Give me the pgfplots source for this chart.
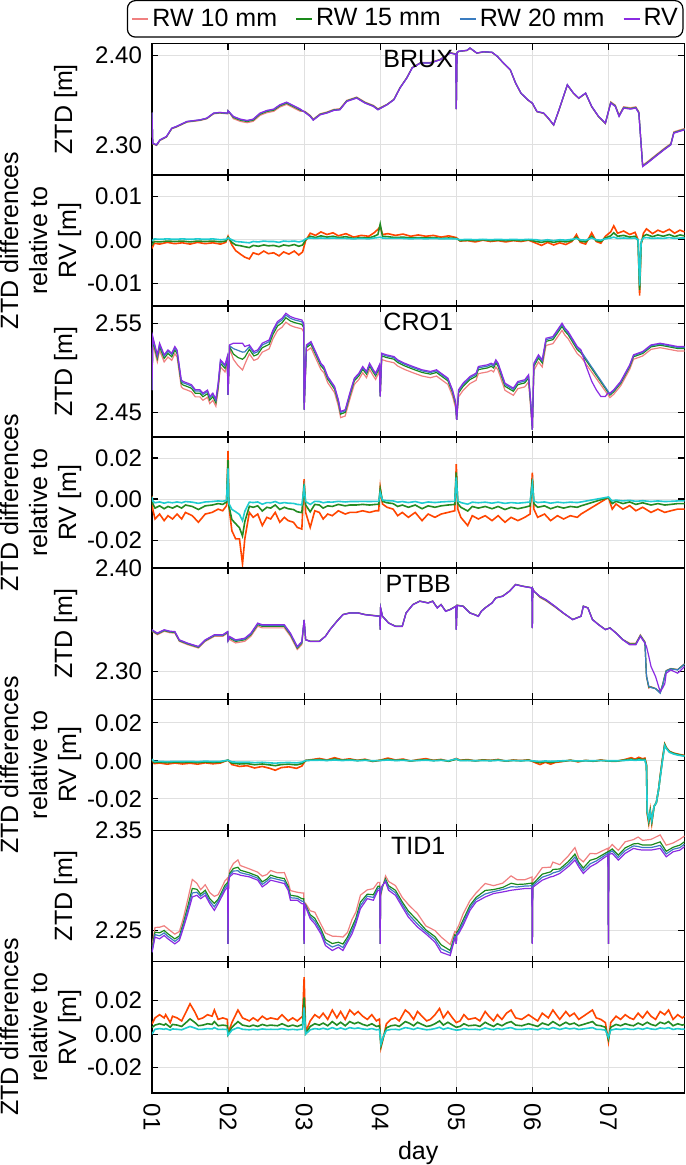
\documentclass[border=0pt]{standalone}
\usepackage{fontspec}
\setmainfont{Liberation Sans}
\usepackage{pgfplots}
\usepackage{pgfplotstable}
\pgfplotsset{compat=1.18}
\usepgfplotslibrary{groupplots}

\definecolor{cRWa}{HTML}{F08080}
\definecolor{cRWb}{HTML}{1A8A1A}
\definecolor{cRWc}{HTML}{3A7CC0}
\definecolor{cRV}{HTML}{8A2BE2}
\definecolor{dA}{HTML}{FF4500}
\definecolor{dB}{HTML}{228B22}
\definecolor{dC}{HTML}{20CCD0}

% BRUX ZTD
\pgfplotstableread{
t rv r10 r15 r20
0.000 2.3360 2.3360 2.3360 2.3360
0.010 2.3018 2.3010 2.3014 2.3017
0.060 2.3000 2.2992 2.2996 2.2999
0.105 2.3055 2.3047 2.3051 2.3054
0.190 2.3093 2.3085 2.3089 2.3092
0.260 2.3186 2.3178 2.3182 2.3185
0.320 2.3205 2.3197 2.3201 2.3204
0.460 2.3261 2.3253 2.3257 2.3260
0.630 2.3279 2.3271 2.3275 2.3278
0.720 2.3298 2.3290 2.3294 2.3297
0.810 2.3354 2.3346 2.3350 2.3353
0.890 2.3362 2.3354 2.3358 2.3361
0.995 2.3354 2.3346 2.3350 2.3353
1.000 2.3380 2.3380 2.3380 2.3380
1.070 2.3317 2.3292 2.3305 2.3313
1.160 2.3287 2.3262 2.3275 2.3283
1.250 2.3272 2.3247 2.3260 2.3268
1.330 2.3287 2.3262 2.3275 2.3283
1.420 2.3354 2.3329 2.3342 2.3350
1.510 2.3384 2.3359 2.3372 2.3380
1.600 2.3399 2.3374 2.3387 2.3395
1.680 2.3447 2.3422 2.3435 2.3443
1.770 2.3477 2.3452 2.3465 2.3473
1.840 2.3447 2.3422 2.3435 2.3443
1.950 2.3399 2.3374 2.3387 2.3395
2.010 2.3362 2.3374 2.3368 2.3364
2.080 2.3317 2.3329 2.3323 2.3319
2.120 2.3275 2.3287 2.3281 2.3277
2.210 2.3335 2.3347 2.3341 2.3337
2.300 2.3355 2.3367 2.3361 2.3357
2.390 2.3384 2.3396 2.3390 2.3386
2.470 2.3391 2.3403 2.3397 2.3393
2.560 2.3485 2.3497 2.3491 2.3487
2.690 2.3522 2.3534 2.3528 2.3524
2.800 2.3466 2.3478 2.3472 2.3468
2.910 2.3429 2.3441 2.3435 2.3431
2.970 2.3391 2.3403 2.3397 2.3393
3.090 2.3447 2.3453 2.3450 2.3448
3.180 2.3503 2.3509 2.3506 2.3504
3.260 2.3634 2.3640 2.3637 2.3635
3.350 2.3746 2.3752 2.3749 2.3747
3.420 2.3858 2.3864 2.3861 2.3859
3.530 2.3914 2.3920 2.3917 2.3915
3.660 2.3914 2.3920 2.3917 2.3915
3.790 2.3951 2.3957 2.3954 2.3952
3.920 2.4026 2.4032 2.4029 2.4027
3.995 2.4010 2.4016 2.4013 2.4011
4.000 2.3399 2.3399 2.3399 2.3399
4.010 2.4030 2.4027 2.4029 2.4030
4.030 2.4045 2.4042 2.4044 2.4045
4.140 2.4056 2.4053 2.4055 2.4056
4.180 2.4082 2.4079 2.4081 2.4082
4.270 2.4026 2.4023 2.4025 2.4026
4.360 2.4040 2.4037 2.4039 2.4040
4.470 2.4034 2.4031 2.4033 2.4034
4.540 2.3989 2.3986 2.3988 2.3989
4.620 2.3914 2.3911 2.3913 2.3914
4.710 2.3839 2.3836 2.3838 2.3839
4.780 2.3690 2.3687 2.3689 2.3690
4.850 2.3578 2.3575 2.3577 2.3578
4.940 2.3503 2.3500 2.3502 2.3503
5.000 2.3466 2.3461 2.3464 2.3466
5.060 2.3373 2.3368 2.3371 2.3373
5.150 2.3354 2.3349 2.3352 2.3354
5.210 2.3298 2.3293 2.3296 2.3298
5.280 2.3223 2.3218 2.3221 2.3223
5.350 2.3391 2.3386 2.3389 2.3391
5.460 2.3671 2.3666 2.3669 2.3671
5.540 2.3578 2.3573 2.3576 2.3578
5.610 2.3522 2.3517 2.3520 2.3522
5.700 2.3578 2.3573 2.3576 2.3578
5.780 2.3429 2.3424 2.3427 2.3429
5.870 2.3317 2.3312 2.3315 2.3317
5.960 2.3242 2.3237 2.3240 2.3242
6.030 2.3466 2.3481 2.3473 2.3469
6.090 2.3429 2.3444 2.3436 2.3432
6.140 2.3317 2.3332 2.3324 2.3320
6.200 2.3410 2.3425 2.3417 2.3413
6.290 2.3399 2.3414 2.3406 2.3402
6.360 2.3410 2.3425 2.3417 2.3413
6.400 2.3354 2.3369 2.3361 2.3357
6.450 2.2757 2.2772 2.2764 2.2760
6.510 2.2794 2.2809 2.2801 2.2797
6.620 2.2869 2.2884 2.2876 2.2872
6.730 2.2943 2.2958 2.2950 2.2946
6.820 2.2999 2.3014 2.3006 2.3002
6.860 2.3130 2.3145 2.3137 2.3133
6.930 2.3149 2.3164 2.3156 2.3152
7.000 2.3167 2.3182 2.3174 2.3170
}\bruxz

% BRUX differences
\pgfplotstableread{
t d10 d15 d20
0.00 -0.0020 -0.0012 -0.0003
0.03 -0.0008 -0.0004 0.0002
0.10 -0.0010 -0.0005 0.0001
0.20 -0.0006 -0.0003 0.0002
0.30 -0.0009 -0.0004 0.0001
0.40 -0.0007 -0.0003 0.0002
0.50 -0.0010 -0.0005 0.0001
0.60 -0.0006 -0.0003 0.0002
0.70 -0.0009 -0.0004 0.0001
0.80 -0.0007 -0.0003 0.0002
0.90 -0.0010 -0.0005 0.0000
0.97 -0.0006 -0.0003 0.0001
1.00 0.0008 0.0006 0.0004
1.05 -0.0012 -0.0006 0.0000
1.10 -0.0025 -0.0012 -0.0004
1.17 -0.0034 -0.0014 -0.0005
1.22 -0.0040 -0.0016 -0.0006
1.28 -0.0044 -0.0018 -0.0007
1.33 -0.0030 -0.0013 -0.0004
1.40 -0.0034 -0.0015 -0.0005
1.47 -0.0026 -0.0012 -0.0003
1.53 -0.0032 -0.0014 -0.0004
1.60 -0.0030 -0.0013 -0.0004
1.67 -0.0037 -0.0016 -0.0006
1.73 -0.0028 -0.0012 -0.0003
1.80 -0.0033 -0.0014 -0.0004
1.87 -0.0026 -0.0011 -0.0003
1.93 -0.0035 -0.0015 -0.0005
1.98 -0.0028 -0.0012 -0.0003
2.02 -0.0002 0.0000 0.0002
2.08 0.0015 0.0008 0.0004
2.15 0.0010 0.0005 0.0003
2.22 0.0018 0.0009 0.0004
2.30 0.0012 0.0006 0.0003
2.38 0.0016 0.0008 0.0004
2.45 0.0009 0.0005 0.0003
2.55 0.0014 0.0007 0.0003
2.65 0.0006 0.0003 0.0002
2.75 0.0010 0.0005 0.0003
2.85 0.0008 0.0004 0.0002
2.92 0.0016 0.0008 0.0004
2.97 0.0024 0.0012 0.0005
3.00 0.0030 0.0036 0.0006
3.03 0.0012 0.0008 0.0004
3.10 0.0014 0.0007 0.0003
3.20 0.0010 0.0005 0.0003
3.30 0.0013 0.0006 0.0003
3.40 0.0008 0.0004 0.0002
3.50 0.0011 0.0005 0.0003
3.60 0.0008 0.0004 0.0002
3.70 0.0010 0.0005 0.0003
3.80 0.0006 0.0003 0.0002
3.90 0.0009 0.0004 0.0002
4.00 0.0005 0.0003 0.0002
4.05 -0.0003 -0.0002 0.0000
4.15 -0.0002 -0.0001 0.0001
4.25 -0.0005 -0.0002 0.0000
4.35 -0.0001 0.0000 0.0001
4.45 -0.0004 -0.0002 0.0000
4.55 -0.0002 -0.0001 0.0001
4.65 -0.0005 -0.0002 0.0000
4.75 -0.0002 -0.0001 0.0001
4.85 -0.0004 -0.0002 0.0000
4.95 -0.0001 0.0000 0.0001
5.05 -0.0008 -0.0004 0.0000
5.12 -0.0013 -0.0006 -0.0002
5.20 -0.0006 -0.0003 0.0000
5.28 -0.0012 -0.0006 -0.0002
5.36 -0.0007 -0.0003 0.0000
5.44 -0.0011 -0.0005 -0.0001
5.52 -0.0004 -0.0002 0.0001
5.58 0.0012 0.0006 0.0003
5.63 -0.0006 -0.0003 0.0000
5.70 -0.0010 -0.0005 -0.0001
5.78 0.0016 0.0008 0.0004
5.84 -0.0004 -0.0002 0.0000
5.90 -0.0008 -0.0004 -0.0001
5.96 0.0008 0.0004 0.0002
6.03 0.0018 0.0009 0.0004
6.07 0.0032 0.0016 0.0006
6.12 0.0015 0.0008 0.0003
6.20 0.0020 0.0010 0.0004
6.28 0.0012 0.0006 0.0003
6.35 0.0017 0.0008 0.0004
6.39 0.0000 -0.0002 0.0000
6.41 -0.0128 -0.0115 -0.0105
6.43 -0.0010 -0.0008 -0.0004
6.46 0.0015 0.0008 0.0004
6.50 0.0025 0.0012 0.0005
6.58 0.0014 0.0007 0.0003
6.65 0.0022 0.0011 0.0004
6.72 0.0017 0.0008 0.0003
6.80 0.0024 0.0012 0.0005
6.87 0.0015 0.0007 0.0003
6.94 0.0022 0.0011 0.0004
7.00 0.0018 0.0009 0.0004
}\bruxd

% CRO1 ZTD
\pgfplotstableread{
t rv r10 r15 r20
0.000 2.4750 2.4750 2.4750 2.4750
0.010 2.5351 2.5271 2.5311 2.5336
0.070 2.5146 2.5066 2.5106 2.5131
0.100 2.5276 2.5196 2.5236 2.5261
0.160 2.5146 2.5066 2.5106 2.5131
0.210 2.5201 2.5121 2.5161 2.5186
0.260 2.5164 2.5084 2.5124 2.5149
0.300 2.5239 2.5159 2.5199 2.5224
0.330 2.5200 2.5120 2.5160 2.5185
0.385 2.4866 2.4786 2.4826 2.4851
0.410 2.4847 2.4767 2.4807 2.4832
0.470 2.4828 2.4748 2.4788 2.4813
0.520 2.4810 2.4730 2.4770 2.4795
0.570 2.4754 2.4674 2.4714 2.4739
0.630 2.4754 2.4674 2.4714 2.4739
0.670 2.4716 2.4636 2.4676 2.4701
0.730 2.4750 2.4670 2.4710 2.4735
0.760 2.4679 2.4599 2.4639 2.4664
0.800 2.4716 2.4636 2.4676 2.4701
0.840 2.4649 2.4569 2.4609 2.4634
0.870 2.4828 2.4748 2.4788 2.4813
0.900 2.5090 2.5010 2.5050 2.5075
0.960 2.5034 2.4954 2.4994 2.5019
0.990 2.5127 2.5047 2.5087 2.5112
1.000 2.4698 2.4698 2.4698 2.4698
1.020 2.5257 2.5217 2.5237 2.5247
1.070 2.5276 2.5096 2.5156 2.5216
1.130 2.5276 2.5026 2.5116 2.5196
1.190 2.5276 2.4976 2.5096 2.5176
1.220 2.5239 2.5039 2.5119 2.5179
1.280 2.5257 2.5157 2.5207 2.5237
1.340 2.5183 2.5083 2.5133 2.5163
1.390 2.5201 2.5101 2.5151 2.5181
1.450 2.5276 2.5176 2.5226 2.5256
1.540 2.5313 2.5213 2.5263 2.5293
1.590 2.5425 2.5325 2.5375 2.5405
1.650 2.5519 2.5419 2.5469 2.5499
1.710 2.5556 2.5456 2.5506 2.5536
1.760 2.5612 2.5512 2.5562 2.5592
1.820 2.5575 2.5475 2.5525 2.5555
1.880 2.5556 2.5456 2.5506 2.5536
1.970 2.5537 2.5437 2.5487 2.5517
1.995 2.5500 2.5400 2.5450 2.5480
2.000 2.4530 2.4530 2.4530 2.4530
2.030 2.5257 2.5187 2.5227 2.5245
2.090 2.5295 2.5225 2.5265 2.5283
2.140 2.5201 2.5131 2.5171 2.5189
2.220 2.5052 2.4982 2.5022 2.5040
2.260 2.5015 2.4945 2.4985 2.5003
2.310 2.4903 2.4833 2.4873 2.4891
2.400 2.4791 2.4721 2.4761 2.4779
2.450 2.4642 2.4572 2.4612 2.4630
2.480 2.4511 2.4441 2.4481 2.4499
2.540 2.4530 2.4460 2.4500 2.4518
2.600 2.4716 2.4646 2.4686 2.4704
2.660 2.4884 2.4814 2.4854 2.4872
2.720 2.4940 2.4870 2.4910 2.4928
2.770 2.5015 2.4945 2.4985 2.5003
2.820 2.4959 2.4889 2.4929 2.4947
2.860 2.5052 2.4982 2.5022 2.5040
2.910 2.4978 2.4908 2.4948 2.4966
2.940 2.4940 2.4870 2.4910 2.4928
2.990 2.5034 2.4964 2.5004 2.5022
3.000 2.4679 2.4679 2.4679 2.4679
3.020 2.5164 2.5094 2.5134 2.5152
3.080 2.5146 2.5076 2.5116 2.5134
3.180 2.5127 2.5057 2.5097 2.5115
3.230 2.5090 2.5020 2.5060 2.5078
3.320 2.5052 2.4982 2.5022 2.5040
3.430 2.5015 2.4945 2.4985 2.5003
3.550 2.4978 2.4908 2.4948 2.4966
3.660 2.4959 2.4889 2.4929 2.4947
3.740 2.4978 2.4908 2.4948 2.4966
3.800 2.4940 2.4870 2.4910 2.4928
3.890 2.4884 2.4814 2.4854 2.4872
3.950 2.4754 2.4684 2.4724 2.4742
3.990 2.4623 2.4553 2.4593 2.4611
4.005 2.4418 2.4418 2.4418 2.4418
4.030 2.4754 2.4674 2.4719 2.4739
4.090 2.4828 2.4748 2.4793 2.4813
4.180 2.4903 2.4823 2.4868 2.4888
4.260 2.4940 2.4860 2.4905 2.4925
4.290 2.5015 2.4935 2.4980 2.5000
4.410 2.5034 2.4954 2.4999 2.5019
4.460 2.5052 2.4972 2.5017 2.5037
4.490 2.5034 2.4954 2.4999 2.5019
4.520 2.5090 2.5010 2.5055 2.5075
4.550 2.5052 2.4972 2.5017 2.5037
4.640 2.4828 2.4748 2.4793 2.4813
4.750 2.4772 2.4692 2.4737 2.4757
4.810 2.4847 2.4767 2.4812 2.4832
4.900 2.4866 2.4786 2.4831 2.4851
4.950 2.4922 2.4842 2.4887 2.4907
4.980 2.4604 2.4524 2.4569 2.4589
5.000 2.4306 2.4306 2.4306 2.4306
5.020 2.5052 2.4972 2.5017 2.5037
5.080 2.5146 2.5066 2.5111 2.5131
5.130 2.5090 2.5010 2.5055 2.5075
5.180 2.5332 2.5252 2.5297 2.5317
5.270 2.5351 2.5271 2.5316 2.5336
5.390 2.5500 2.5420 2.5465 2.5485
5.430 2.5444 2.5364 2.5409 2.5429
5.470 2.5407 2.5327 2.5372 2.5392
5.590 2.5239 2.5159 2.5204 2.5224
5.640 2.5201 2.5121 2.5166 2.5186
5.700 2.5034 nan nan nan
5.780 2.4850 nan nan nan
5.840 2.4754 nan nan nan
5.900 2.4679 nan nan nan
5.960 2.4679 nan nan nan
5.990 2.4716 nan nan nan
6.020 2.4716 2.4666 2.4694 2.4706
6.070 2.4754 2.4704 2.4732 2.4744
6.160 2.4847 2.4797 2.4825 2.4837
6.220 2.4940 2.4890 2.4918 2.4930
6.280 2.5034 2.4984 2.5012 2.5024
6.330 2.5146 2.5096 2.5124 2.5136
6.450 2.5183 2.5133 2.5161 2.5173
6.560 2.5257 2.5207 2.5235 2.5247
6.680 2.5276 2.5226 2.5254 2.5266
6.800 2.5257 2.5207 2.5235 2.5247
6.910 2.5239 2.5189 2.5217 2.5229
7.000 2.5239 2.5189 2.5217 2.5229
}\crooz

% CRO1 differences
\pgfplotstableread{
t d10 d15 d20
0.00 0.0016 0.0012 0.0010
0.01 -0.0049 -0.0022 -0.0009
0.04 -0.0097 -0.0044 -0.0018
0.10 -0.0073 -0.0033 -0.0014
0.16 -0.0105 -0.0047 -0.0020
0.21 -0.0081 -0.0036 -0.0015
0.27 -0.0097 -0.0044 -0.0018
0.33 -0.0073 -0.0033 -0.0014
0.39 -0.0097 -0.0044 -0.0018
0.44 -0.0065 -0.0029 -0.0012
0.53 -0.0081 -0.0036 -0.0015
0.61 -0.0113 -0.0051 -0.0021
0.70 -0.0073 -0.0033 -0.0014
0.79 -0.0065 -0.0029 -0.0012
0.87 -0.0049 -0.0022 -0.0009
0.93 -0.0057 -0.0026 -0.0011
0.98 -0.0032 -0.0014 -0.0006
1.00 0.0235 0.0190 0.0150
1.01 -0.0032 -0.0030 -0.0020
1.05 -0.0154 -0.0100 -0.0050
1.10 -0.0194 -0.0120 -0.0062
1.15 -0.0194 -0.0140 -0.0075
1.19 -0.0316 -0.0180 -0.0105
1.22 -0.0194 -0.0110 -0.0060
1.28 -0.0065 -0.0035 -0.0015
1.33 -0.0089 -0.0040 -0.0017
1.39 -0.0073 -0.0033 -0.0014
1.45 -0.0129 -0.0058 -0.0025
1.51 -0.0089 -0.0040 -0.0017
1.56 -0.0097 -0.0044 -0.0018
1.62 -0.0065 -0.0029 -0.0012
1.68 -0.0113 -0.0051 -0.0021
1.74 -0.0089 -0.0040 -0.0017
1.79 -0.0105 -0.0047 -0.0020
1.86 -0.0113 -0.0051 -0.0021
1.91 -0.0138 -0.0062 -0.0026
1.97 -0.0146 -0.0066 -0.0028
2.00 0.0097 0.0073 0.0057
2.02 -0.0065 -0.0029 -0.0012
2.08 -0.0138 -0.0062 -0.0026
2.14 -0.0057 -0.0026 -0.0011
2.20 -0.0065 -0.0029 -0.0012
2.25 -0.0097 -0.0044 -0.0018
2.31 -0.0073 -0.0033 -0.0014
2.37 -0.0081 -0.0036 -0.0015
2.45 -0.0057 -0.0026 -0.0011
2.54 -0.0073 -0.0033 -0.0014
2.60 -0.0065 -0.0029 -0.0012
2.68 -0.0065 -0.0029 -0.0012
2.77 -0.0057 -0.0026 -0.0011
2.86 -0.0065 -0.0029 -0.0012
2.94 -0.0057 -0.0026 -0.0011
2.98 -0.0057 -0.0026 -0.0011
3.00 0.0057 0.0049 0.0032
3.03 -0.0024 -0.0011 -0.0005
3.09 -0.0040 -0.0018 -0.0008
3.17 -0.0049 -0.0022 -0.0009
3.23 -0.0081 -0.0036 -0.0015
3.29 -0.0065 -0.0029 -0.0012
3.37 -0.0089 -0.0040 -0.0017
3.46 -0.0065 -0.0029 -0.0012
3.55 -0.0105 -0.0047 -0.0020
3.63 -0.0073 -0.0033 -0.0014
3.72 -0.0089 -0.0040 -0.0017
3.80 -0.0073 -0.0033 -0.0014
3.89 -0.0065 -0.0029 -0.0012
3.98 -0.0057 -0.0026 -0.0011
4.00 0.0170 0.0130 0.0105
4.02 -0.0049 -0.0022 -0.0009
4.06 -0.0089 -0.0040 -0.0017
4.15 -0.0129 -0.0058 -0.0025
4.21 -0.0081 -0.0036 -0.0015
4.29 -0.0097 -0.0044 -0.0018
4.38 -0.0081 -0.0036 -0.0015
4.47 -0.0105 -0.0047 -0.0020
4.55 -0.0081 -0.0036 -0.0015
4.64 -0.0113 -0.0051 -0.0021
4.72 -0.0089 -0.0040 -0.0017
4.81 -0.0105 -0.0047 -0.0020
4.90 -0.0089 -0.0040 -0.0017
4.97 -0.0073 -0.0033 -0.0014
5.00 0.0129 0.0097 0.0073
5.02 -0.0049 -0.0022 -0.0009
5.07 -0.0089 -0.0040 -0.0017
5.16 -0.0073 -0.0033 -0.0014
5.24 -0.0105 -0.0047 -0.0020
5.33 -0.0081 -0.0036 -0.0015
5.41 -0.0097 -0.0044 -0.0018
5.50 -0.0081 -0.0036 -0.0015
5.59 -0.0089 -0.0040 -0.0017
5.64 -0.0073 -0.0033 -0.0014
6.00 0.0008 0.0008 0.0010
6.05 -0.0049 -0.0022 -0.0009
6.10 -0.0024 -0.0011 -0.0005
6.19 -0.0049 -0.0022 -0.0009
6.28 -0.0032 -0.0014 -0.0006
6.36 -0.0057 -0.0026 -0.0011
6.45 -0.0040 -0.0018 -0.0008
6.56 -0.0065 -0.0029 -0.0012
6.65 -0.0049 -0.0022 -0.0009
6.74 -0.0065 -0.0029 -0.0012
6.82 -0.0057 -0.0026 -0.0011
6.91 -0.0049 -0.0022 -0.0009
7.00 -0.0049 -0.0022 -0.0009
}\crood

% PTBB ZTD
\pgfplotstableread{
t rv r10 r15 r20
0.000 2.3405 2.3390 2.3397 2.3401
0.070 2.3372 2.3357 2.3364 2.3368
0.160 2.3405 2.3390 2.3397 2.3401
0.240 2.3390 2.3375 2.3382 2.3386
0.300 2.3388 2.3373 2.3380 2.3384
0.360 2.3307 2.3292 2.3299 2.3303
0.470 2.3275 2.3260 2.3267 2.3271
0.610 2.3243 2.3228 2.3235 2.3239
0.700 2.3307 2.3292 2.3299 2.3303
0.820 2.3356 2.3341 2.3348 2.3352
0.930 2.3356 2.3341 2.3348 2.3352
0.995 2.3388 2.3373 2.3380 2.3384
1.000 2.3300 2.3300 2.3300 2.3300
1.020 2.3340 2.3310 2.3325 2.3332
1.100 2.3307 2.3277 2.3292 2.3299
1.220 2.3323 2.3293 2.3308 2.3315
1.300 2.3372 2.3342 2.3357 2.3364
1.390 2.3469 2.3439 2.3454 2.3461
1.450 2.3453 2.3423 2.3438 2.3445
1.560 2.3453 2.3423 2.3438 2.3445
1.740 2.3453 2.3423 2.3438 2.3445
1.820 2.3372 2.3342 2.3357 2.3364
1.910 2.3243 2.3213 2.3228 2.3235
1.970 2.3291 2.3261 2.3276 2.3283
2.000 2.3500 2.3500 2.3500 2.3500
2.020 2.3307 2.3310 2.3309 2.3308
2.080 2.3291 2.3294 2.3293 2.3292
2.200 2.3291 2.3294 2.3293 2.3292
2.280 2.3340 2.3343 2.3342 2.3341
2.340 2.3405 2.3408 2.3407 2.3406
2.430 2.3485 2.3488 2.3487 2.3486
2.510 2.3550 2.3553 2.3552 2.3551
2.600 2.3566 2.3569 2.3568 2.3567
2.710 2.3566 2.3569 2.3568 2.3567
2.800 2.3550 2.3553 2.3552 2.3551
2.995 2.3534 2.3537 2.3536 2.3535
3.000 2.3405 2.3405 2.3405 2.3405
3.005 2.3615 2.3618 2.3617 2.3616
3.030 2.3534 2.3537 2.3536 2.3535
3.110 2.3469 2.3472 2.3471 2.3470
3.200 2.3437 2.3440 2.3439 2.3438
3.290 2.3437 2.3440 2.3439 2.3438
3.340 2.3566 2.3569 2.3568 2.3567
3.430 2.3647 2.3650 2.3649 2.3648
3.520 2.3680 2.3683 2.3682 2.3681
3.630 2.3663 2.3666 2.3665 2.3664
3.690 2.3680 2.3683 2.3682 2.3681
3.750 2.3615 2.3618 2.3617 2.3616
3.800 2.3647 2.3650 2.3649 2.3648
3.860 2.3583 2.3586 2.3585 2.3584
3.920 2.3599 2.3602 2.3601 2.3600
3.995 2.3631 2.3634 2.3633 2.3632
4.000 2.3405 2.3405 2.3405 2.3405
4.010 2.3640 2.3643 2.3642 2.3641
4.090 2.3631 2.3634 2.3633 2.3632
4.180 2.3566 2.3569 2.3568 2.3567
4.240 2.3550 2.3553 2.3552 2.3551
4.290 2.3534 2.3537 2.3536 2.3535
4.330 2.3583 2.3586 2.3585 2.3584
4.380 2.3615 2.3618 2.3617 2.3616
4.470 2.3663 2.3666 2.3665 2.3664
4.520 2.3712 2.3715 2.3714 2.3713
4.610 2.3728 2.3731 2.3730 2.3729
4.700 2.3777 2.3780 2.3779 2.3778
4.780 2.3841 2.3844 2.3843 2.3842
4.870 2.3825 2.3828 2.3827 2.3826
4.995 2.3809 2.3812 2.3811 2.3810
5.000 2.3420 2.3420 2.3420 2.3420
5.005 2.3800 2.3803 2.3802 2.3801
5.020 2.3777 2.3780 2.3779 2.3778
5.100 2.3728 2.3716 2.3722 2.3726
5.180 2.3696 2.3684 2.3690 2.3694
5.300 2.3631 2.3622 2.3627 2.3629
5.410 2.3566 2.3562 2.3564 2.3566
5.530 2.3502 2.3505 2.3504 2.3503
5.640 2.3534 2.3537 2.3536 2.3535
5.670 2.3631 2.3634 2.3633 2.3632
5.730 2.3615 2.3618 2.3617 2.3616
5.790 2.3502 2.3505 2.3504 2.3503
5.870 2.3453 2.3456 2.3455 2.3454
5.960 2.3405 2.3408 2.3407 2.3406
6.020 2.3421 2.3424 2.3423 2.3422
6.100 2.3372 2.3375 2.3374 2.3373
6.190 2.3307 2.3310 2.3309 2.3308
6.280 2.3259 2.3275 2.3268 2.3263
6.360 2.3259 2.3275 2.3268 2.3263
6.420 2.3340 2.3356 2.3349 2.3344
6.480 2.3275 2.3289 2.3283 2.3279
6.500 2.3243 2.2951 2.2955 2.2960
6.530 2.3150 2.2840 2.2850 2.2860
6.560 2.3049 2.2854 2.2850 2.2845
6.620 2.2951 2.2835 2.2835 2.2835
6.680 2.2806 2.2800 2.2795 2.2790
6.710 2.2838 2.2870 2.2865 2.2860
6.740 2.2880 2.2960 2.2955 2.2950
6.760 2.2984 2.3010 2.3008 2.3005
6.820 2.3016 2.3030 2.3028 2.3026
6.910 2.2984 2.3020 2.3018 2.3016
7.000 2.3049 2.3075 2.3073 2.3071
}\ptbbz

% PTBB differences
\pgfplotstableread{
t d10 d15 d20
0.00 0.0005 0.0006 0.0008
0.03 -0.0015 -0.0009 -0.0004
0.10 -0.0012 -0.0007 -0.0003
0.20 -0.0018 -0.0010 -0.0005
0.30 -0.0012 -0.0007 -0.0003
0.40 -0.0017 -0.0009 -0.0004
0.50 -0.0013 -0.0007 -0.0003
0.60 -0.0018 -0.0010 -0.0005
0.70 -0.0011 -0.0006 -0.0002
0.80 -0.0016 -0.0009 -0.0004
0.90 -0.0012 -0.0007 -0.0003
1.00 0.0004 0.0003 0.0003
1.05 -0.0020 -0.0012 -0.0006
1.15 -0.0030 -0.0017 -0.0008
1.25 -0.0026 -0.0015 -0.0007
1.35 -0.0038 -0.0021 -0.0010
1.45 -0.0030 -0.0017 -0.0008
1.55 -0.0040 -0.0022 -0.0011
1.62 -0.0050 -0.0026 -0.0013
1.70 -0.0036 -0.0020 -0.0010
1.80 -0.0032 -0.0018 -0.0009
1.90 -0.0040 -0.0022 -0.0011
1.97 -0.0028 -0.0015 -0.0007
2.02 0.0002 0.0001 0.0001
2.10 0.0006 0.0004 0.0002
2.20 0.0012 0.0007 0.0003
2.30 0.0004 0.0002 0.0001
2.40 0.0016 0.0009 0.0004
2.50 0.0005 0.0003 0.0001
2.60 0.0010 0.0006 0.0003
2.70 0.0002 0.0001 0.0000
2.80 0.0008 0.0005 0.0002
2.90 -0.0004 -0.0002 0.0000
3.00 0.0003 0.0002 0.0001
3.10 0.0014 0.0008 0.0004
3.20 0.0004 0.0002 0.0001
3.30 0.0009 0.0005 0.0002
3.40 -0.0002 -0.0001 0.0000
3.50 0.0006 0.0003 0.0001
3.60 0.0011 0.0006 0.0003
3.70 0.0002 0.0001 0.0000
3.80 0.0007 0.0004 0.0002
3.90 -0.0003 -0.0002 0.0000
4.00 0.0012 0.0008 0.0010
4.05 0.0003 0.0002 0.0001
4.15 0.0006 0.0003 0.0001
4.25 -0.0001 0.0000 0.0000
4.35 0.0005 0.0003 0.0001
4.45 0.0002 0.0001 0.0000
4.55 0.0007 0.0004 0.0002
4.65 -0.0002 -0.0001 0.0000
4.75 0.0004 0.0002 0.0001
4.85 0.0001 0.0000 0.0000
4.95 0.0005 0.0003 0.0001
5.05 -0.0012 -0.0006 -0.0002
5.10 -0.0020 -0.0010 -0.0004
5.17 -0.0008 -0.0004 -0.0001
5.24 -0.0018 -0.0009 -0.0003
5.30 -0.0009 -0.0005 -0.0002
5.40 -0.0004 -0.0002 0.0000
5.50 0.0003 0.0002 0.0001
5.60 -0.0006 -0.0003 -0.0001
5.70 0.0002 0.0001 0.0000
5.80 -0.0003 -0.0002 0.0000
5.90 0.0004 0.0002 0.0001
6.00 -0.0002 -0.0001 0.0000
6.10 -0.0003 -0.0002 0.0000
6.20 0.0005 0.0003 0.0001
6.30 0.0016 0.0009 0.0004
6.35 0.0008 0.0004 0.0002
6.40 0.0018 0.0010 0.0004
6.45 0.0010 0.0006 0.0003
6.48 0.0014 0.0008 0.0003
6.50 -0.0020 -0.0025 -0.0030
6.51 -0.0280 -0.0270 -0.0265
6.53 -0.0330 -0.0320 -0.0310
6.55 -0.0260 -0.0265 -0.0270
6.57 -0.0330 -0.0320 -0.0315
6.60 -0.0240 -0.0240 -0.0240
6.63 -0.0220 -0.0220 -0.0220
6.66 -0.0150 -0.0150 -0.0150
6.68 -0.0080 -0.0085 -0.0090
6.71 0.0010 0.0005 0.0000
6.74 0.0088 0.0085 0.0080
6.76 0.0070 0.0068 0.0065
6.80 0.0050 0.0048 0.0045
6.86 0.0040 0.0038 0.0035
6.91 0.0035 0.0033 0.0030
7.00 0.0028 0.0026 0.0024
}\ptbbd

% TID1 ZTD
\pgfplotstableread{
t rv r10 r15 r20
0.000 2.2282 2.2342 2.2322 2.2282
0.040 2.2433 2.2530 2.2483 2.2458
0.100 2.2416 2.2532 2.2476 2.2446
0.160 2.2450 2.2547 2.2500 2.2475
0.210 2.2416 2.2516 2.2466 2.2441
0.300 2.2366 2.2463 2.2416 2.2391
0.360 2.2400 2.2490 2.2445 2.2425
0.410 2.2517 2.2617 2.2567 2.2542
0.470 2.2668 2.2808 2.2738 2.2703
0.530 2.2835 2.3010 2.2920 2.2875
0.590 2.2852 2.2972 2.2912 2.2882
0.640 2.2818 2.2908 2.2863 2.2843
0.700 2.2852 2.2957 2.2902 2.2877
0.760 2.2768 2.2878 2.2818 2.2793
0.820 2.2701 2.2841 2.2771 2.2736
0.870 2.2768 2.2858 2.2813 2.2793
0.960 2.2902 2.2997 2.2952 2.2927
0.995 2.2936 2.3026 2.2981 2.2961
1.000 2.2366 2.2366 2.2366 2.2366
1.005 2.2980 2.2990 2.2985 2.2982
1.020 2.3036 2.3100 2.3070 2.3055
1.070 2.3070 2.3170 2.3120 2.3095
1.130 2.3062 2.3206 2.3132 2.3097
1.160 2.3053 2.3150 2.3103 2.3078
1.280 2.3036 2.3116 2.3076 2.3056
1.390 2.3003 2.3083 2.3043 2.3023
1.450 2.2936 2.3043 2.2986 2.2961
1.510 2.2969 2.3059 2.3014 2.2994
1.560 2.3003 2.3100 2.3053 2.3028
1.650 2.2986 2.3076 2.3031 2.3011
1.740 2.2969 2.3079 2.3019 2.2994
1.790 2.2902 2.2982 2.2942 2.2922
1.820 2.2802 2.2899 2.2852 2.2827
1.910 2.2802 2.2882 2.2842 2.2822
1.970 2.2768 2.2875 2.2818 2.2793
1.995 2.2768 2.2875 2.2818 2.2793
2.000 2.2366 2.2366 2.2366 2.2366
2.005 2.2760 2.2780 2.2770 2.2765
2.020 2.2735 2.2770 2.2755 2.2745
2.080 2.2617 2.2697 2.2657 2.2637
2.140 2.2567 2.2683 2.2622 2.2595
2.220 2.2466 2.2563 2.2516 2.2491
2.280 2.2349 2.2474 2.2409 2.2379
2.370 2.2299 2.2443 2.2369 2.2334
2.450 2.2332 2.2440 2.2382 2.2357
2.510 2.2299 2.2434 2.2364 2.2329
2.570 2.2383 2.2480 2.2433 2.2408
2.630 2.2466 2.2610 2.2536 2.2501
2.680 2.2567 2.2683 2.2622 2.2595
2.740 2.2718 2.2853 2.2783 2.2748
2.830 2.2818 2.2906 2.2863 2.2843
2.910 2.2802 2.2918 2.2857 2.2830
2.970 2.2902 2.2981 2.2942 2.2922
2.995 2.2902 2.2981 2.2942 2.2922
3.000 2.2366 2.2366 2.2366 2.2366
3.005 2.2920 2.2840 2.2860 2.2870
3.030 2.2952 2.2928 2.2940 2.2945
3.070 2.2986 2.3046 2.3016 2.3001
3.110 2.2902 2.2990 2.2947 2.2927
3.200 2.2852 2.2949 2.2902 2.2877
3.290 2.2735 2.2830 2.2785 2.2760
3.370 2.2634 2.2759 2.2694 2.2664
3.490 2.2534 2.2669 2.2599 2.2564
3.600 2.2466 2.2545 2.2506 2.2486
3.720 2.2383 2.2499 2.2438 2.2411
3.800 2.2282 2.2435 2.2357 2.2317
3.920 2.2249 2.2359 2.2299 2.2274
3.980 2.2416 2.2490 2.2456 2.2436
3.995 2.2416 2.2485 2.2451 2.2436
4.000 2.2366 2.2366 2.2366 2.2366
4.005 2.2450 2.2510 2.2480 2.2465
4.030 2.2466 2.2545 2.2506 2.2486
4.090 2.2550 2.2666 2.2605 2.2578
4.180 2.2701 2.2798 2.2751 2.2726
4.260 2.2785 2.2875 2.2830 2.2810
4.380 2.2835 2.2970 2.2900 2.2865
4.490 2.2869 2.2948 2.2909 2.2889
4.610 2.2885 2.2973 2.2930 2.2910
4.720 2.2902 2.3046 2.2972 2.2937
4.800 2.2910 2.3007 2.2960 2.2935
4.900 2.2919 2.3007 2.2964 2.2944
4.995 2.2919 2.3035 2.2974 2.2947
5.000 2.2366 2.2366 2.2366 2.2366
5.005 2.2930 2.3000 2.2965 2.2947
5.040 2.2952 2.3031 2.2992 2.2972
5.130 2.3003 2.3128 2.3063 2.3033
5.240 2.3036 2.3133 2.3086 2.3061
5.270 2.3040 2.3184 2.3110 2.3075
5.360 2.3070 2.3158 2.3115 2.3095
5.470 2.3137 2.3244 2.3187 2.3162
5.560 2.3204 2.3329 2.3264 2.3234
5.610 2.3137 2.3225 2.3182 2.3162
5.670 2.3070 2.3186 2.3125 2.3098
5.760 2.3137 2.3271 2.3202 2.3167
5.840 2.3170 2.3267 2.3220 2.3195
5.930 2.3220 2.3300 2.3260 2.3240
5.995 2.3254 2.3323 2.3289 2.3274
6.000 2.2366 2.2366 2.2366 2.2366
6.005 2.3260 2.3320 2.3290 2.3275
6.050 2.3271 2.3360 2.3316 2.3296
6.130 2.3204 2.3301 2.3254 2.3229
6.220 2.3271 2.3387 2.3326 2.3299
6.330 2.3321 2.3409 2.3366 2.3346
6.390 2.3310 2.3435 2.3370 2.3340
6.450 2.3304 2.3401 2.3354 2.3329
6.560 2.3304 2.3411 2.3354 2.3329
6.680 2.3321 2.3456 2.3386 2.3351
6.760 2.3237 2.3353 2.3292 2.3265
6.850 2.3287 2.3375 2.3332 2.3312
6.940 2.3304 2.3413 2.3354 2.3329
7.000 2.3338 2.3445 2.3388 2.3363
}\tidaz

% TID1 differences
\pgfplotstableread{
t d10 d15 d20
0.00 0.0060 0.0040 0.0000
0.04 0.0097 0.0054 0.0029
0.10 0.0116 0.0062 0.0033
0.16 0.0097 0.0054 0.0029
0.18 0.0116 0.0062 0.0033
0.24 0.0069 0.0041 0.0024
0.27 0.0107 0.0058 0.0031
0.33 0.0097 0.0054 0.0029
0.39 0.0079 0.0046 0.0026
0.44 0.0125 0.0066 0.0035
0.50 0.0181 0.0091 0.0046
0.56 0.0135 0.0071 0.0037
0.61 0.0088 0.0050 0.0028
0.67 0.0097 0.0054 0.0029
0.73 0.0116 0.0062 0.0033
0.79 0.0107 0.0058 0.0031
0.82 0.0144 0.0075 0.0039
0.87 0.0088 0.0050 0.0028
0.93 0.0097 0.0054 0.0029
0.99 0.0088 0.0050 0.0028
1.00 0.0004 0.0000 -0.0006
1.05 0.0069 0.0041 0.0024
1.13 0.0144 0.0075 0.0039
1.19 0.0097 0.0054 0.0029
1.28 0.0079 0.0046 0.0026
1.33 0.0097 0.0054 0.0029
1.39 0.0079 0.0046 0.0026
1.45 0.0107 0.0058 0.0031
1.51 0.0088 0.0050 0.0028
1.56 0.0097 0.0054 0.0029
1.65 0.0088 0.0050 0.0028
1.71 0.0116 0.0062 0.0033
1.79 0.0079 0.0046 0.0026
1.85 0.0097 0.0054 0.0029
1.91 0.0079 0.0046 0.0026
1.98 0.0107 0.0058 0.0031
2.00 0.0340 0.0220 0.0160
2.02 0.0013 0.0005 0.0000
2.08 0.0079 0.0046 0.0026
2.14 0.0116 0.0062 0.0033
2.20 0.0097 0.0054 0.0029
2.25 0.0125 0.0066 0.0035
2.31 0.0088 0.0050 0.0028
2.37 0.0144 0.0075 0.0039
2.43 0.0097 0.0054 0.0029
2.48 0.0135 0.0071 0.0037
2.54 0.0088 0.0050 0.0028
2.60 0.0144 0.0075 0.0039
2.66 0.0116 0.0062 0.0033
2.71 0.0135 0.0071 0.0037
2.77 0.0107 0.0058 0.0031
2.83 0.0088 0.0050 0.0028
2.89 0.0116 0.0062 0.0033
2.95 0.0079 0.0046 0.0026
2.99 0.0090 0.0050 0.0028
3.01 -0.0080 -0.0070 -0.0060
3.04 -0.0024 -0.0020 -0.0015
3.08 0.0060 0.0037 0.0022
3.14 0.0088 0.0050 0.0028
3.20 0.0097 0.0054 0.0029
3.25 0.0079 0.0046 0.0026
3.33 0.0144 0.0075 0.0039
3.38 0.0125 0.0066 0.0035
3.44 0.0088 0.0050 0.0028
3.49 0.0135 0.0071 0.0037
3.55 0.0107 0.0058 0.0031
3.61 0.0079 0.0046 0.0026
3.66 0.0088 0.0050 0.0028
3.72 0.0116 0.0062 0.0033
3.78 0.0153 0.0079 0.0041
3.83 0.0097 0.0054 0.0029
3.89 0.0135 0.0071 0.0037
3.95 0.0097 0.0054 0.0029
4.00 0.0069 0.0041 0.0024
4.05 0.0079 0.0046 0.0026
4.10 0.0116 0.0062 0.0033
4.16 0.0088 0.0050 0.0028
4.25 0.0097 0.0054 0.0029
4.31 0.0079 0.0046 0.0026
4.38 0.0135 0.0071 0.0037
4.43 0.0107 0.0058 0.0031
4.49 0.0079 0.0046 0.0026
4.54 0.0116 0.0062 0.0033
4.60 0.0088 0.0050 0.0028
4.66 0.0125 0.0066 0.0035
4.72 0.0144 0.0075 0.0039
4.78 0.0097 0.0054 0.0029
4.86 0.0088 0.0050 0.0028
4.95 0.0116 0.0062 0.0033
5.01 0.0097 0.0054 0.0029
5.07 0.0079 0.0046 0.0026
5.13 0.0125 0.0066 0.0035
5.21 0.0097 0.0054 0.0029
5.27 0.0144 0.0075 0.0039
5.36 0.0088 0.0050 0.0028
5.44 0.0135 0.0071 0.0037
5.49 0.0107 0.0058 0.0031
5.55 0.0125 0.0066 0.0035
5.61 0.0088 0.0050 0.0028
5.70 0.0116 0.0062 0.0033
5.79 0.0144 0.0075 0.0039
5.84 0.0097 0.0054 0.0029
5.90 0.0088 0.0050 0.0028
5.96 0.0069 0.0041 0.0024
6.00 -0.0045 -0.0030 -0.0020
6.03 0.0069 0.0041 0.0024
6.10 0.0107 0.0058 0.0031
6.16 0.0088 0.0050 0.0028
6.22 0.0116 0.0062 0.0033
6.28 0.0097 0.0054 0.0029
6.33 0.0088 0.0050 0.0028
6.39 0.0125 0.0066 0.0035
6.45 0.0097 0.0054 0.0029
6.51 0.0135 0.0071 0.0037
6.56 0.0107 0.0058 0.0031
6.62 0.0088 0.0050 0.0028
6.68 0.0135 0.0071 0.0037
6.74 0.0116 0.0062 0.0033
6.79 0.0144 0.0075 0.0039
6.85 0.0088 0.0050 0.0028
6.91 0.0116 0.0062 0.0033
6.97 0.0097 0.0054 0.0029
7.00 0.0107 0.0058 0.0031
}\tidad

\pgfplotsset{
  panel/.style={
    width=266pt, height=65.5pt, scale only axis,
    xmin=0, xmax=7,
    xtick={0,1,2,3,4,5,6}, xticklabels={},
    scaled y ticks=false, scaled x ticks=false,
    grid=major, grid style={line width=0.5pt, draw=black!12},
    tick align=inside, major tick length=3pt,
    tick style={line width=0.6pt, black},
    axis line style={line width=0.75pt},
    /pgf/number format/assume math mode=true,
    yticklabel style={font=\fontsize{12}{14}\selectfont, xshift=-1.5pt},
    xticklabel style={font=\fontsize{12}{14}\selectfont, rotate=-90, anchor=west},
    xticklabel shift=2pt,
  },
  zlab/.style={ylabel={ZTD [m]},
    ylabel style={at={(axis description cs:-0.162,0.5)}, anchor=center, inner sep=0pt}},
  dlab/.style={ylabel={ZTD differences\\relative to\\RV [m]},
    ylabel style={at={(axis description cs:-0.209,0.5)}, anchor=center, align=center, inner sep=0pt}},
  zline/.style={line width=0.6pt},
  dline/.style={line width=0.8pt},
}

\begin{document}
\begin{tikzpicture}[font=\fontsize{12.5}{14.5}\selectfont]
\begin{groupplot}[group style={group size=1 by 8, vertical sep=0pt}, panel]

\nextgroupplot[zlab, ymin=2.2664, ymax=2.413,
  ytick={2.30,2.40}, yticklabels={2.30,2.40},
  legend columns=4,
  legend style={at={(1,1)}, anchor=south east, yshift=3pt, xshift=-0.5pt,
    draw=black, line width=0.6pt, rounded corners=4pt,
    inner xsep=2pt, inner ysep=4pt,
    nodes={inner xsep=0.5pt, inner ysep=0pt},
    /tikz/every even column/.append style={column sep=8.5pt},
    /tikz/every odd column/.append style={column sep=1pt}},
  legend image code/.code={\draw[#1, line width=1pt] (0pt,0pt) -- (8pt,0pt);}]
\addplot[zline, cRWa] table[x=t, y=r10] {\bruxz};
\addlegendentry{RW 10 mm}
\addplot[zline, cRWb] table[x=t, y=r15] {\bruxz};
\addlegendentry{RW 15 mm}
\addplot[zline, cRWc] table[x=t, y=r20] {\bruxz};
\addlegendentry{RW 20 mm}
\addplot[zline, cRV] table[x=t, y=rv] {\bruxz};
\addlegendentry{RV}
\node[anchor=north, inner sep=3.3pt] at (rel axis cs:0.5,1) {BRUX};

\nextgroupplot[dlab, ymin=-0.0152, ymax=0.0149,
  ytick={-0.01,0,0.01}, yticklabels={-0.01,0.00,0.01}]
\addplot[dline, dA] table[x=t, y=d10] {\bruxd};
\addplot[dline, dB] table[x=t, y=d15] {\bruxd};
\addplot[dline, dC] table[x=t, y=d20] {\bruxd};

\nextgroupplot[zlab, ymin=2.4223, ymax=2.5694,
  ytick={2.45,2.55}, yticklabels={2.45,2.55}]
\addplot[zline, cRWa] table[x=t, y=r10] {\crooz};
\addplot[zline, cRWb] table[x=t, y=r15] {\crooz};
\addplot[zline, cRWc] table[x=t, y=r20] {\crooz};
\addplot[zline, cRV] table[x=t, y=rv] {\crooz};
\node[anchor=north, inner sep=3.3pt] at (rel axis cs:0.5,1) {CRO1};

\nextgroupplot[dlab, ymin=-0.0337, ymax=0.0302,
  ytick={-0.02,0,0.02}, yticklabels={-0.02,0.00,0.02}]
\addplot[dline, dA] table[x=t, y=d10] {\crood};
\addplot[dline, dB] table[x=t, y=d15] {\crood};
\addplot[dline, dC] table[x=t, y=d20] {\crood};

\nextgroupplot[zlab, ymin=2.2731, ymax=2.40,
  ytick={2.30,2.40}, yticklabels={2.30,2.40}]
\addplot[zline, cRWa] table[x=t, y=r10] {\ptbbz};
\addplot[zline, cRWb] table[x=t, y=r15] {\ptbbz};
\addplot[zline, cRWc] table[x=t, y=r20] {\ptbbz};
\addplot[zline, cRV] table[x=t, y=rv] {\ptbbz};
\node[anchor=north, inner sep=3.3pt] at (rel axis cs:0.5,1) {PTBB};

\nextgroupplot[dlab, ymin=-0.0367, ymax=0.0323,
  ytick={-0.02,0,0.02}, yticklabels={-0.02,0.00,0.02}]
\addplot[dline, dA] table[x=t, y=d10] {\ptbbd};
\addplot[dline, dB] table[x=t, y=d15] {\ptbbd};
\addplot[dline, dC] table[x=t, y=d20] {\ptbbd};

\nextgroupplot[zlab, ymin=2.2188, ymax=2.35,
  ytick={2.25,2.35}, yticklabels={2.25,2.35}]
\addplot[zline, cRWa] table[x=t, y=r10] {\tidaz};
\addplot[zline, cRWb] table[x=t, y=r15] {\tidaz};
\addplot[zline, cRWc] table[x=t, y=r20] {\tidaz};
\addplot[zline, cRV] table[x=t, y=rv] {\tidaz};
\node[anchor=north, inner sep=3.3pt] at (rel axis cs:0.5,1) {TID1};

\nextgroupplot[dlab, ymin=-0.035, ymax=0.0433,
  ytick={-0.02,0,0.02}, yticklabels={-0.02,0.00,0.02},
  xticklabels={01,02,03,04,05,06,07},
  xlabel={day},
  xlabel style={at={(axis description cs:0.5,0)}, anchor=base, yshift=-33.5pt, inner sep=0pt}]
\addplot[dline, dA] table[x=t, y=d10] {\tidad};
\addplot[dline, dB] table[x=t, y=d15] {\tidad};
\addplot[dline, dC] table[x=t, y=d20] {\tidad};

\end{groupplot}
\end{tikzpicture}
\end{document}
